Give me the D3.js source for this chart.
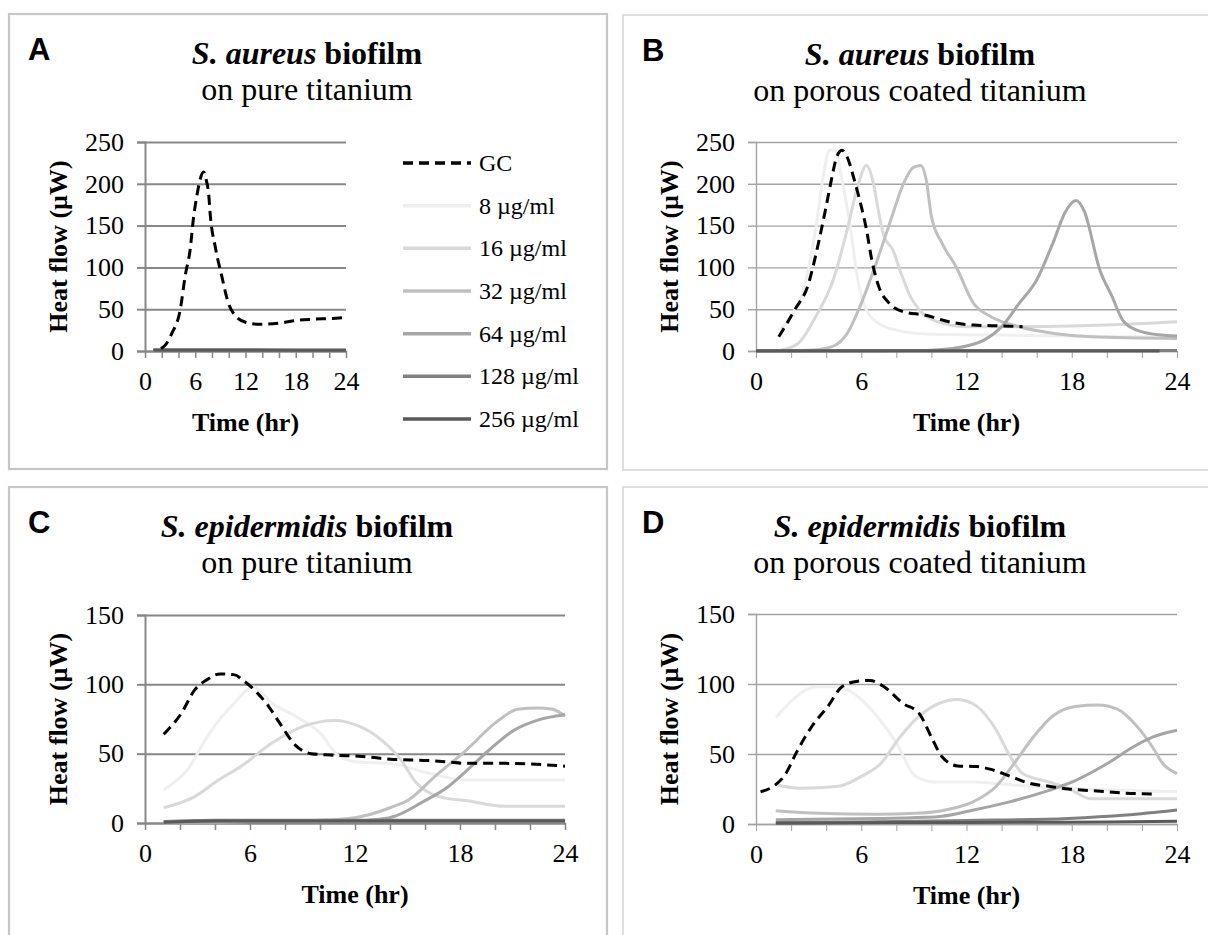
<!DOCTYPE html>
<html><head><meta charset="utf-8">
<script src="https://cdn.jsdelivr.net/npm/d3@7/dist/d3.min.js"></script>
<style>
html,body{margin:0;padding:0;background:#fff;}
svg{display:block;}
</style></head>
<body>
<svg id="chart" width="1208" height="935"></svg>
<script>
// ---------- data ----------
const seriesNames = ["GC","8 µg/ml","16 µg/ml","32 µg/ml","64 µg/ml","128 µg/ml","256 µg/ml"];
const xTickLabels = [0,6,12,18,24];
const yTicksAureus = [0,50,100,150,200,250];
const yTicksEpi = [0,50,100,150];

// Panel A: S. aureus on pure titanium  [time (hr), heat flow (µW)]
const A_GC   = [[1.9,3],[2.5,8],[3.2,21],[4.2,49],[4.8,90],[5.4,122],[5.8,160],[6.2,186],[6.6,206],[7.0,214],[7.3,205],[7.6,188],[7.8,162],[8.4,124],[9.2,88],[9.9,59],[10.9,41],[12.1,34],[13.7,32],[16.1,33.5],[18.4,37],[20,38],[22.4,39],[24,40]];
const A_8    = [[1,1],[6,1],[12,1],[18,1],[24,1]];
const A_16   = [[1,1],[6,1],[12,1],[18,1],[24,1]];
const A_32   = [[1,1],[6,1],[12,1],[18,1],[24,1]];
const A_64   = [[1,1],[6,1],[12,1],[18,1],[24,1]];
const A_128  = [[1,1.5],[6,1.5],[12,1.5],[18,1],[24,1]];
const A_256  = [[1,1],[6,1],[12,1],[18,1],[24,1]];

// Panel B: S. aureus on porous coated titanium
const B_GC   = [[1.3,17],[2.2,49],[3.0,81],[3.3,105],[3.6,133],[4.0,173],[4.3,205],[4.6,232],[4.9,240],[5.2,232],[5.6,205],[6.0,173],[6.3,145],[6.6,109],[7.0,77],[7.6,57],[8.4,47],[9.6,43],[11,35],[12.4,31],[14.0,30],[15.2,29]];
const B_8    = [[1.3,25],[2.0,41],[2.8,81],[3.4,145],[3.8,205],[4.2,240],[4.5,240],[4.9,205],[5.4,145],[5.8,85],[6.3,49],[7.0,33],[8.0,25],[10,20],[14,19],[18,18],[21,17],[24,17]];
const B_16   = [[1.4,1],[2.4,9],[3.4,41],[4.4,85],[5.2,145],[5.8,197],[6.3,222],[6.7,200],[7.0,165],[7.3,137],[7.8,121],[8.2,97],[8.8,65],[9.4,47],[10.4,35],[12.0,29],[14,29],[18,30],[22.1,33],[24,35]];
const B_32   = [[0,0],[3,1],[4.3,5],[5.2,21],[6.0,57],[6.9,108],[7.8,164],[8.4,200],[9.0,220],[9.4,222],[9.7,205],[10.0,161],[10.6,129],[11.4,101],[12.4,57],[13.4,41],[15.0,29],[17.0,21],[19.1,17],[24,15]];
const B_64   = [[0,0],[8,0.5],[10,1],[11.2,3],[12,6],[13,13],[14,29],[15,57],[16,85],[17,133],[17.6,165],[18.25,180],[18.7,168],[19.6,97],[20.3,65],[20.9,37],[21.7,25],[23.1,19],[24,18]];
const B_128  = [[0,0.5],[6,0.5],[12,0.5],[18,0.5],[24,0.5]];
const B_256  = [[0,0],[6,0],[12,0],[18,0],[23,0]];

// Panel C: S. epidermidis on pure titanium
const C_GC   = [[1.07,64],[2.07,79],[2.84,96],[3.5,103],[4.3,107.5],[5.07,107],[5.7,102],[6.4,94],[7.07,84],[7.7,72],[8.6,56],[9.5,50],[10.6,49],[11.7,48.5],[12.8,47.5],[14,46],[16.2,45],[17.3,44],[18.4,43],[20.6,43],[22.8,42],[24,41]];
const C_8    = [[1.07,24],[2.4,38],[3.7,65],[5.07,86],[6.2,98],[7.3,86],[8.6,77],[10,65],[11.1,48],[12.2,44],[14,43],[16.2,36],[18.4,31],[21,31],[24,31]];
const C_16   = [[1.07,11],[2.84,19],[4.2,31],[5.5,41],[7.3,58],[9.1,70],[10.8,74],[12.2,70],[13.5,60],[14.6,46],[15.5,29],[16.8,19],[18.4,16],[20.6,12],[24,12]];
const C_32   = [[1.07,0],[6,1],[10,2],[11.5,3],[12.8,6],[14,11],[15.1,17],[16.6,34],[18.4,53],[20,72],[21.3,82],[22.4,83],[23.3,82],[24,77]];
const C_64   = [[1.07,0],[6,1],[12,1.5],[13.2,2.5],[14.3,5],[15.0,9],[15.7,14],[17.3,26],[18.4,38],[19.7,53],[21.1,67],[22.4,74],[24,78]];
const C_128  = [[1.07,1],[4,2],[12,2],[18,2],[24,2]];
const C_256  = [[1.07,0.5],[4,1.5],[12,1.5],[18,1.5],[24,1.5]];

// Panel D: S. epidermidis on porous coated titanium
const D_GC   = [[0.26,23],[1.0,27],[1.7,36],[2.3,51],[3.2,70],[4.1,84],[4.9,98],[5.8,102],[6.5,102.5],[7.3,98],[8.4,86],[9.3,79],[10,62],[10.6,48],[11.5,41.5],[12.6,41],[13.4,39],[14.5,34],[15.6,29],[16.7,27],[17.8,25],[18.9,24],[20,23],[21.1,22],[22.6,21.5]];
const D_8    = [[1.13,76],[2.3,91],[3.4,98],[4.7,98],[5.8,91],[6.9,77],[8.0,58],[9.1,34],[10.2,30],[12.4,30],[14.5,28],[17.8,25.5],[24,23]];
const D_16   = [[1.13,28],[2.5,25.5],[4.7,27],[6.0,34],[7.1,43],[8.2,62],[9.3,77],[10.4,86],[11.5,89],[12.6,84],[13.7,67],[14.5,48],[15.2,36],[16.7,30],[17.8,25.5],[19.1,18],[21.1,18],[24,18]];
const D_32   = [[1.13,9.5],[3.6,7.6],[6.9,7],[9.1,7.6],[10.8,10],[12.4,16],[13.7,27],[14.7,43],[15.8,62],[16.9,77],[18.2,84],[19.5,85],[20.6,82],[21.7,70],[22.6,55],[23.2,43],[24,36]];
const D_64   = [[1.13,3],[6.9,4],[10.2,5],[12.4,10],[14.5,16],[16.7,24],[18.2,31],[20,43],[21.5,55],[22.6,62],[24,67]];
const D_128  = [[1.13,1],[6,1.5],[12,2.5],[17.8,4],[21.1,6.4],[24,10]];
const D_256  = [[1.13,0.5],[8,1],[16,1.2],[20,1.5],[24,2]];

// ---------- styling ----------
const seriesColors = ["#000000","#efefef","#d9d9d9","#c0c0c0","#a6a6a6","#808080","#5a5a5a"];
const SERIF = "'Liberation Serif','Times New Roman',serif";
const SANS = "'Liberation Sans',Arial,sans-serif";

const panels = [
  {letter:"A", box:[9,14,598,455], border:"#c6c6c6", bw:2.2, grid:"#878787", gw:2,
   species:"S. aureus", sub:"on pure titanium", cx:307,
   px:[145,346], py:[351,142], yMax:250, yTicks:yTicksAureus,
   data:[A_GC,A_8,A_16,A_32,A_64,A_128,A_256], legend:true},
  {letter:"B", box:[623,15,620,455], border:"#d6d6d6", bw:1.6, grid:"#a3a3a3", gw:1.4,
   species:"S. aureus", sub:"on porous coated titanium", cx:920,
   px:[756,1177], py:[351,142], yMax:250, yTicks:yTicksAureus,
   data:[B_GC,B_8,B_16,B_32,B_64,B_128,B_256]},
  {letter:"C", box:[9,487,598,470], border:"#c6c6c6", bw:2.2, grid:"#878787", gw:2,
   species:"S. epidermidis", sub:"on pure titanium", cx:307,
   px:[145,565], py:[823,615], yMax:150, yTicks:yTicksEpi,
   data:[C_GC,C_8,C_16,C_32,C_64,C_128,C_256]},
  {letter:"D", box:[623,487,620,470], border:"#d6d6d6", bw:1.6, grid:"#a3a3a3", gw:1.4,
   species:"S. epidermidis", sub:"on porous coated titanium", cx:920,
   px:[756,1177], py:[824,614], yMax:150, yTicks:yTicksEpi,
   data:[D_GC,D_8,D_16,D_32,D_64,D_128,D_256]}
];

const svg = d3.select("#chart");

panels.forEach(p => {
  const g = svg.append("g");
  const [bx,by,bw,bh] = p.box;
  g.append("rect").attr("x",bx).attr("y",by).attr("width",bw).attr("height",bh)
    .attr("fill","none").attr("stroke",p.border).attr("stroke-width",p.bw);

  g.append("text").attr("x",bx+19).attr("y",by+46)
    .attr("font-family",SANS).attr("font-weight","bold").attr("font-size",31)
    .text(p.letter);

  const t1 = g.append("text").attr("x",p.cx).attr("y",by+50)
    .attr("text-anchor","middle").attr("font-family",SERIF).attr("font-size",32)
    .attr("font-weight","bold");
  t1.append("tspan").attr("font-style","italic").text(p.species);
  t1.append("tspan").text(" biofilm");
  g.append("text").attr("x",p.cx).attr("y",by+86)
    .attr("text-anchor","middle").attr("font-family",SERIF).attr("font-size",32)
    .text(p.sub);

  const x = d3.scaleLinear().domain([0,24]).range(p.px);
  const y = d3.scaleLinear().domain([0,p.yMax]).range(p.py);

  // gridlines
  const yAxis = d3.axisLeft(y).tickValues(p.yTicks)
    .tickSizeInner(-(p.px[1]-p.px[0])).tickSizeOuter(0).tickFormat("");
  const gg = g.append("g").attr("transform",`translate(${p.px[0]},0)`).call(yAxis);
  gg.selectAll("line").attr("stroke",p.grid).attr("stroke-width",p.gw);
  gg.select(".domain").remove();

  // outer y ticks + labels
  const yAxis2 = d3.axisLeft(y).tickValues(p.yTicks).tickSize(8).tickPadding(13);
  const ya = g.append("g").attr("transform",`translate(${p.px[0]},0)`).call(yAxis2);
  ya.select(".domain").attr("stroke",p.grid).attr("stroke-width",p.gw);
  ya.selectAll("line").attr("stroke",p.grid).attr("stroke-width",p.gw);
  ya.selectAll("text").attr("font-family",SERIF).attr("font-size",26).attr("fill","#000");

  // x axis
  const xAxis = d3.axisBottom(x).tickValues(d3.range(0,25,2)).tickSizeInner(7).tickSizeOuter(0)
    .tickPadding(14).tickFormat(d => xTickLabels.includes(d) ? d : "");
  const xa = g.append("g").attr("transform",`translate(0,${p.py[0]})`).call(xAxis);
  xa.select(".domain").attr("stroke",p.grid).attr("stroke-width",p.gw);
  xa.selectAll("line").attr("stroke",p.grid).attr("stroke-width",p.gw*0.75);
  xa.selectAll("text").attr("font-family",SERIF).attr("font-size",26).attr("fill","#000");

  // axis titles
  g.append("text").attr("transform",`translate(${p.px[0]-87},${(p.py[0]+p.py[1])/2}) rotate(-90)`)
    .attr("text-anchor","middle").attr("dominant-baseline","central")
    .attr("font-family",SERIF).attr("font-weight","bold").attr("font-size",26)
    .text("Heat flow (µW)");
  g.append("text").attr("x",(p.px[0]+p.px[1])/2).attr("y",p.py[0]+71)
    .attr("text-anchor","middle").attr("dominant-baseline","central")
    .attr("font-family",SERIF).attr("font-weight","bold").attr("font-size",26)
    .text("Time (hr)");

  const line = d3.line().x(d=>x(d[0])).y(d=>y(d[1])).curve(d3.curveMonotoneX);
  const order = [1,2,3,4,5,6,0];
  order.forEach(i => {
    g.append("path").datum(p.data[i]).attr("d",line)
      .attr("fill","none").attr("stroke",seriesColors[i])
      .attr("stroke-width",3).attr("stroke-linejoin","round")
      .attr("stroke-dasharray", i===0 ? "10,6" : null);
  });

  if (p.legend) {
    const ly = d3.scalePoint().domain(seriesNames).range([163,419]);
    seriesNames.forEach((name,i) => {
      g.append("line").attr("x1",403).attr("x2",471)
        .attr("y1",ly(name)).attr("y2",ly(name))
        .attr("stroke",seriesColors[i]).attr("stroke-width",3.5)
        .attr("stroke-dasharray", i===0 ? "10,6" : null);
      g.append("text").attr("x",479).attr("y",ly(name)).attr("dominant-baseline","central")
        .attr("font-family",SERIF).attr("font-size",24).text(name);
    });
  }
});
</script>
</body></html>
